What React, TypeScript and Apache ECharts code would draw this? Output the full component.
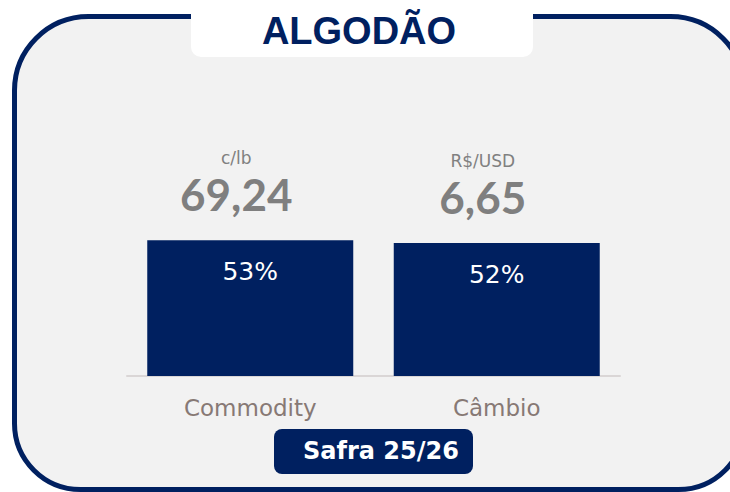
import React, { useEffect, useRef } from "react";
import * as echarts from "echarts";

const categories = ["Commodity", "Câmbio"];
const shareValues = [53, 52];
const unitLabels = ["c/lb", "R$/USD"];
const priceLabels = ["69,24", "6,65"];
const titleText = "ALGODÃO";
const badgeText = "Safra 25/26";

const NAVY = "#002060";

const FRAME_D =
  "M88.5 16.5 L670.5 16.5 A74 74 0 0 1 744.5 90.5 L744.5 423.5 A66 66 0 0 1 678.5 489.5 L80.5 489.5 A66 66 0 0 1 14.5 423.5 L14.5 90.5 A74 74 0 0 1 88.5 16.5 Z";

let registered = false;

export default function App() {
  const ref = useRef<HTMLDivElement>(null);
  useEffect(() => {
    if (!ref.current) return;
    document.body.style.margin = "0";
    document.body.style.overflow = "hidden";
    document.documentElement.style.overflow = "hidden";
    if (!registered) {
      echarts.graphic.registerShape("frame", echarts.graphic.extendPath(FRAME_D, {}) as any);
      registered = true;
    }
    const chart = echarts.init(ref.current, null, { renderer: "svg" });
    chart.setOption({
      animation: false,
      backgroundColor: "#ffffff",
      graphic: [
        {
          type: "frame",
          z: -10,
          x: 0,
          y: 0,
          style: { fill: "#f2f2f2", stroke: NAVY, lineWidth: 5 },
        },
        {
          type: "rect",
          z: -5,
          shape: { x: 191, y: -20, width: 342, height: 77, r: 10 },
          style: { fill: "#ffffff" },
        },
        {
          type: "text",
          z: 10,
          x: 359,
          y: 31,
          style: {
            text: titleText,
            fill: NAVY,
            font: "bold 38px 'Liberation Sans', Arial, sans-serif",
            textAlign: "center",
            textVerticalAlign: "middle",
          },
        },
        {
          type: "rect",
          z: 10,
          shape: { x: 274, y: 429, width: 199, height: 45, r: 8 },
          style: { fill: NAVY },
        },
        {
          type: "text",
          z: 11,
          x: 303,
          y: 451,
          style: {
            text: badgeText,
            fill: "#ffffff",
            font: "bold 24px 'DejaVu Sans', sans-serif",
            textAlign: "left",
            textVerticalAlign: "middle",
          },
        },
      ],
      grid: { left: 127, right: 110, top: 120, bottom: 116 },
      xAxis: {
        type: "category",
        data: categories,
        axisLine: { show: true, lineStyle: { color: "#dad6d6", width: 2 } },
        axisTick: { show: false },
        axisLabel: {
          color: "#877975",
          fontFamily: "'DejaVu Sans', sans-serif",
          fontSize: 23,
          margin: 20,
        },
      },
      yAxis: {
        type: "value",
        min: 0,
        max: 100,
        show: false,
        splitLine: { show: false },
      },
      series: [
        {
          type: "bar",
          data: shareValues,
          barWidth: 206,
          itemStyle: { color: NAVY },
          label: {
            show: true,
            position: "insideTop",
            distance: 19,
            formatter: (p: any) => `${p.value}%`,
            color: "#ffffff",
            fontFamily: "'DejaVu Sans', sans-serif",
            fontSize: 25,
          },
        },
        {
          type: "bar",
          data: shareValues,
          barWidth: 206,
          barGap: "-100%",
          itemStyle: { color: "transparent" },
          silent: true,
          label: {
            show: true,
            position: "top",
            distance: 22,
            offset: [-14, 0],
            formatter: (p: any) =>
              `{u|${unitLabels[p.dataIndex]}}\n{v|${priceLabels[p.dataIndex]}}`,
            rich: {
              u: {
                color: "#808080",
                fontFamily: "'DejaVu Sans', sans-serif",
                fontSize: 17,
                lineHeight: 24,
              },
              v: {
                color: "#7f7f7f",
                fontFamily: "Lato, sans-serif",
                fontWeight: "bold",
                fontSize: 44,
                lineHeight: 48,
              },
            },
          },
        },
      ],
    });
    return () => chart.dispose();
  }, []);
  return (
    <div
      ref={ref}
      style={{
        position: "fixed",
        left: 0,
        top: 0,
        width: 730,
        height: 492,
        overflow: "hidden",
      }}
    />
  );
}
